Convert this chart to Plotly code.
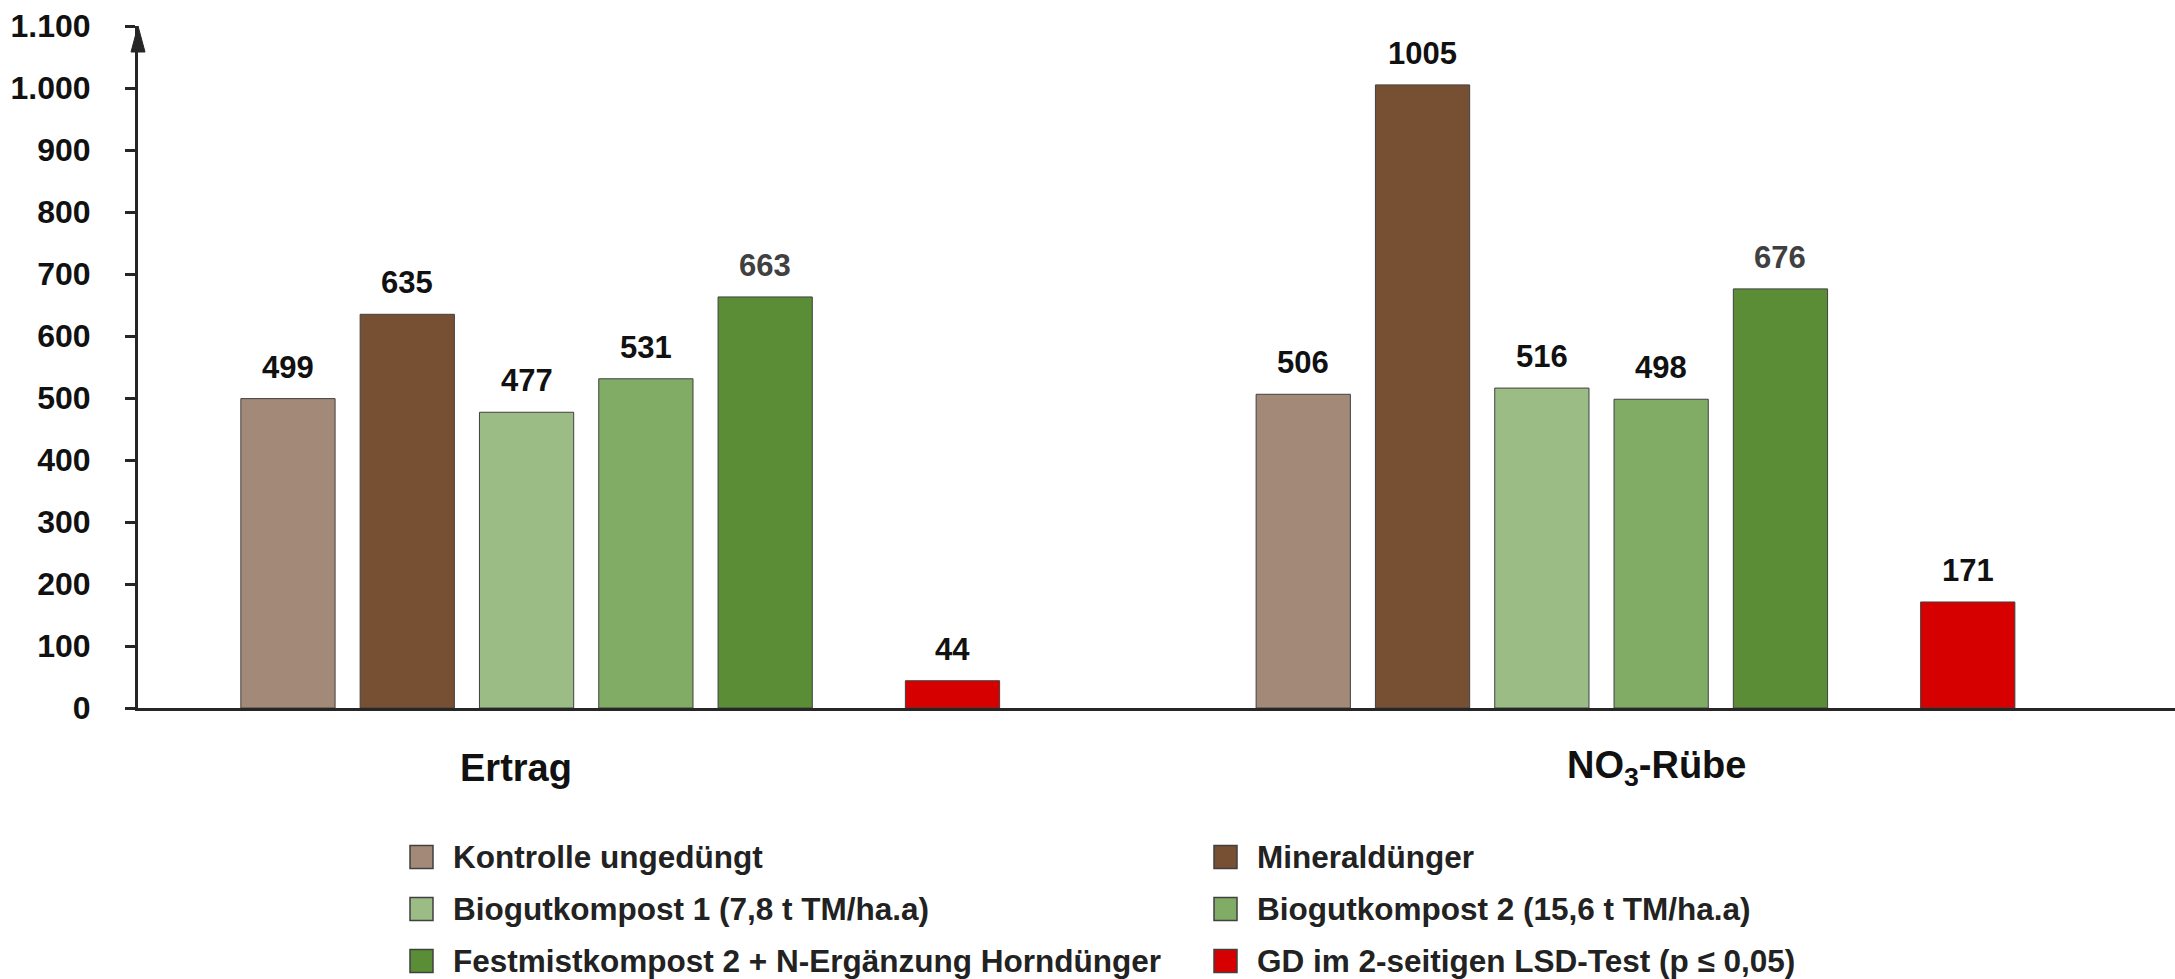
import plotly.graph_objects as go

# --- data -----------------------------------------------------------------
groups = ["Ertrag", "NO<sub>3</sub>-Rübe"]

series_names = [
    "Kontrolle ungedüngt",
    "Mineraldünger",
    "Biogutkompost 1 (7,8 t TM/ha.a)",
    "Biogutkompost 2 (15,6 t TM/ha.a)",
    "Festmistkompost 2 + N-Ergänzung Horndünger",
    "GD im 2-seitigen LSD-Test (p ≤ 0,05)",
]

kontrolle = [499, 506]
mineral = [635, 1005]
biogut1 = [477, 516]
biogut2 = [531, 498]
festmist = [663, 676]
gd_lsd = [44, 171]

y_tick_vals = [0, 100, 200, 300, 400, 500, 600, 700, 800, 900, 1000, 1100]
y_tick_text = ["0", "100", "200", "300", "400", "500", "600", "700", "800",
               "900", "1.000", "1.100"]

# --- styling ----------------------------------------------------------------
colors = ["#A38A78", "#774F32", "#9BBC84", "#80AC66", "#5B8C36", "#D60000"]
label_colors = ["#111111", "#111111", "#111111", "#111111", "#404040", "#111111"]
FONT = "Liberation Sans, Arial, Helvetica, sans-serif"
AXIS_COLOR = "#262626"

W, H = 2175, 979
ML, MR, MT, MB = 138, 0, 26, 271
PLOT_W = W - ML - MR
PLOT_H = H - MT - MB

# slot layout: five treatments side by side, LSD bar set apart, second group shifted
slot = [0, 1, 2, 3, 4, 5.57]
group_shift = 8.51
bar_width = 0.79
x_range = [-1.257, 15.817]
group_label_x = [1.91, 11.475]

all_values = [kontrolle, mineral, biogut1, biogut2, festmist, gd_lsd]

fig = go.Figure()
annotations = []
for i, (name, vals) in enumerate(zip(series_names, all_values)):
    xs = [slot[i] + g * group_shift for g in range(len(groups))]
    fig.add_trace(go.Bar(
        x=xs, y=vals, name=name, width=bar_width,
        marker=dict(color=colors[i], line=dict(color="#404040", width=1)),
        showlegend=False,
    ))
    for x, v in zip(xs, vals):
        annotations.append(dict(
            x=x, y=v, xref="x", yref="y", text=str(v), showarrow=False,
            yanchor="bottom", yshift=12,
            font=dict(family=FONT, size=31, color=label_colors[i], weight="bold"),
        ))

# group labels under the x axis
for gx, gname in zip(group_label_x, groups):
    annotations.append(dict(
        x=gx, y=0, xref="x", yref="paper", text=gname, showarrow=False,
        yanchor="middle", yshift=-60,
        font=dict(family=FONT, size=38, color="#111111", weight="bold"),
    ))

# legend drawn as two columns of swatches + labels
def px_x(p):
    return (p - ML) / PLOT_W

def px_y(p):
    return (H - MB - p) / PLOT_H

legend_cols = [410, 1214]
legend_rows = [857, 909, 961]
swatch = 23
shapes = []
for i, name in enumerate(series_names):
    col, row = i % 2, i // 2
    x0 = legend_cols[col]
    yc = legend_rows[row]
    shapes.append(dict(
        type="rect", xref="paper", yref="paper",
        x0=px_x(x0), x1=px_x(x0 + swatch),
        y0=px_y(yc + swatch / 2), y1=px_y(yc - swatch / 2),
        fillcolor=colors[i], line=dict(color="#404040", width=1.5),
    ))
    annotations.append(dict(
        x=px_x(x0 + swatch + 18), y=px_y(yc), xref="paper", yref="paper",
        text=name, showarrow=False, xanchor="left", yanchor="middle",
        font=dict(family=FONT, size=31.5, color="#222222", weight="bold"),
    ))

# arrow head on top of the value axis
ah_w, ah_h = 7, 26
shapes.append(dict(
    type="path", xref="paper", yref="paper",
    path=(f"M {px_x(ML - ah_w)} {1 - ah_h / PLOT_H} "
          f"L {px_x(ML)} 1 L {px_x(ML + ah_w)} {1 - ah_h / PLOT_H} Z"),
    fillcolor=AXIS_COLOR, line=dict(color=AXIS_COLOR, width=1),
))

fig.update_layout(
    width=W, height=H,
    margin=dict(l=ML, r=MR, t=MT, b=MB, pad=0),
    paper_bgcolor="white", plot_bgcolor="white",
    barmode="overlay",
    showlegend=False,
    font=dict(family=FONT, color="#111111"),
    annotations=annotations,
    shapes=shapes,
    xaxis=dict(
        range=x_range, showgrid=False, zeroline=False, showticklabels=False,
        ticks="", showline=True, linecolor=AXIS_COLOR, linewidth=3,
        fixedrange=True,
    ),
    yaxis=dict(
        range=[0, 1100], tickvals=y_tick_vals, ticktext=y_tick_text,
        showgrid=False, zeroline=False, showline=True, linecolor=AXIS_COLOR,
        linewidth=3, ticks="outside", ticklen=10, tickwidth=3,
        tickcolor=AXIS_COLOR, ticklabelstandoff=28,
        tickfont=dict(family=FONT, size=32, color="#111111", weight="bold"),
        fixedrange=True,
    ),
)

fig.write_html("out.html")
